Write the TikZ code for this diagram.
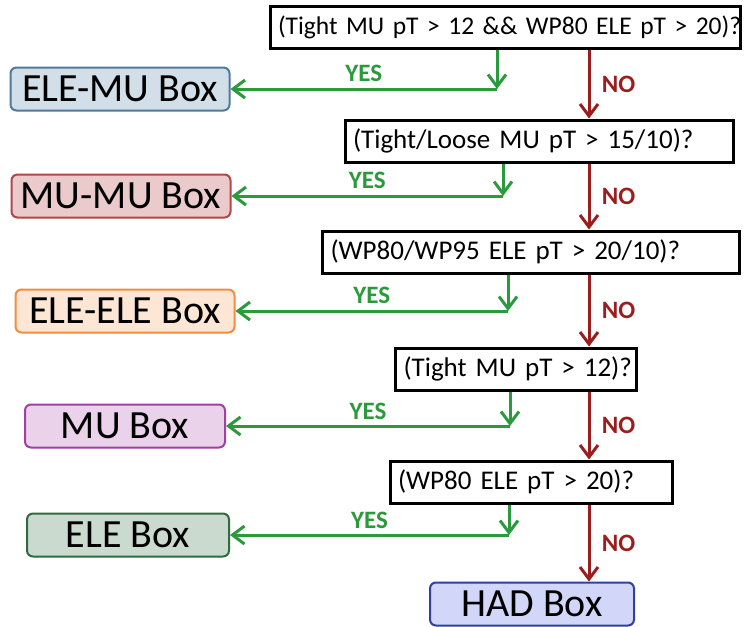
\documentclass[tikz,border=0pt]{standalone}
\usepackage{fontspec}
\setmainfont{Carlito}
\newfontfamily\qfont{Carlito}[WordSpace=0.8]
\usetikzlibrary{arrows.meta}
\definecolor{yesgreen}{HTML}{2A9A3C}
\definecolor{nored}{HTML}{9A1E1E}
\definecolor{emfill}{HTML}{D2DEE8}\definecolor{emdraw}{HTML}{4F7A9A}
\definecolor{mmfill}{HTML}{EACACA}\definecolor{mmdraw}{HTML}{B04848}
\definecolor{eefill}{HTML}{FDE6D4}\definecolor{eedraw}{HTML}{F38C40}
\definecolor{mufill}{HTML}{EAD2EA}\definecolor{mudraw}{HTML}{A040A0}
\definecolor{elfill}{HTML}{CBDACE}\definecolor{eldraw}{HTML}{2E6B3E}
\definecolor{hdfill}{HTML}{D2D6F8}\definecolor{hddraw}{HTML}{3040A0}
\tikzset{
  question/.style={draw, line width=3pt, fill=white, minimum height=42pt,
    inner xsep=8pt, inner ysep=0pt, align=left, text width=#1,
    font=\qfont\fontsize{27}{30}\selectfont},
  result/.style={draw, rounded corners=6pt, line width=2pt, minimum height=43pt,
    minimum width=#1, align=center, font=\fontsize{40}{44}\selectfont},
  yesline/.style={draw=yesgreen, line width=3pt, -{Straight Barb[length=12pt,width=18pt]}},
  noline/.style={draw=nored, line width=3pt, -{Straight Barb[length=12pt,width=18pt]}},
  yeslabel/.style={text=yesgreen, font=\fontsize{25}{28}\selectfont\bfseries},
  nolabel/.style={text=nored, font=\fontsize{25}{28}\selectfont\bfseries}
}
\begin{document}
\begin{tikzpicture}[x=1pt,y=-1pt]
\useasboundingbox[fill=white] (0,0) rectangle (748,627);
% questions
\node[question=454pt, font=\qfont\fontsize{25.5}{30}\selectfont] (q1) at (505,27) {\mbox{(Tight MU pT > 12 \&\& WP80 ELE pT > 20)?}};
\node[question=372pt] (q2) at (539,141) {\mbox{(Tight/Loose MU pT > 15/10)?}};
\node[question=401pt] (q3) at (531,252) {\mbox{(WP80/WP95 ELE pT > 20/10)?}};
\node[question=225pt] (q4) at (516,369) {\mbox{(Tight MU pT > 12)?}};
\node[question=266pt] (q5) at (531,482) {\mbox{(WP80 ELE pT > 20)?}};
% boxes
\node[result=219pt, fill=emfill, draw=emdraw] (elemu) at (120,89) {ELE-MU Box};
\node[result=219pt, fill=mmfill, draw=mmdraw] (mumu) at (121,196) {MU-MU Box};
\node[result=219pt, fill=eefill, draw=eedraw] (eleele) at (125,311) {ELE-ELE Box};
\node[result=200pt, fill=mufill, draw=mudraw] (mu) at (125,426) {MU Box};
\node[result=202pt, fill=elfill, draw=eldraw] (ele) at (128,535) {ELE Box};
\node[result=204pt, fill=hdfill, draw=hddraw] (had) at (532,604) {HAD Box};
% yes branches
\coordinate (y1) at (497,89);
\coordinate (y2) at (503,196);
\coordinate (y3) at (508,311);
\coordinate (y4) at (510,426);
\coordinate (y5) at (509,535);
\draw[yesline] (q1.south -| y1) -- (y1);
\draw[yesline] (y1) -- node[yeslabel, above=2pt] {YES} (elemu.east);
\draw[yesline] (q2.south -| y2) -- (y2);
\draw[yesline] (y2) -- node[yeslabel, above=2pt] {YES} (mumu.east);
\draw[yesline] (q3.south -| y3) -- (y3);
\draw[yesline] (y3) -- node[yeslabel, above=2pt] {YES} (eleele.east);
\draw[yesline] (q4.south -| y4) -- (y4);
\draw[yesline] (y4) -- node[yeslabel, above=2pt] {YES} (mu.east);
\draw[yesline] (q5.south -| y5) -- (y5);
\draw[yesline] (y5) -- node[yeslabel, above=2pt] {YES} (ele.east);
% no branches
\coordinate (nocol) at (589,0);
\draw[noline] (q1.south -| nocol) -- node[nolabel, right=8pt] {NO} (q2.north -| nocol);
\draw[noline] (q2.south -| nocol) -- node[nolabel, right=8pt] {NO} (q3.north -| nocol);
\draw[noline] (q3.south -| nocol) -- node[nolabel, right=8pt] {NO} (q4.north -| nocol);
\draw[noline] (q4.south -| nocol) -- node[nolabel, right=8pt] {NO} (q5.north -| nocol);
\draw[noline] (q5.south -| nocol) -- node[nolabel, right=8pt] {NO} (had.north -| nocol);
\end{tikzpicture}
\end{document}
